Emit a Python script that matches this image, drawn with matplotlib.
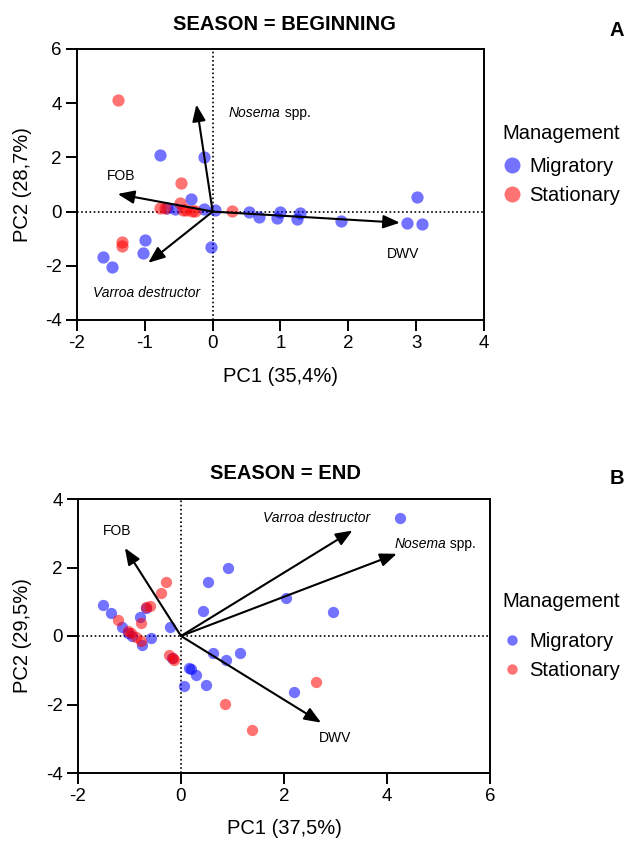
import matplotlib
matplotlib.use("Agg")
import matplotlib.pyplot as plt
from matplotlib.lines import Line2D

plt.rcParams['font.family'] = ['Liberation Sans', 'DejaVu Sans']
plt.rcParams['axes.unicode_minus'] = False

# ---------------- Data: Season = Beginning ----------------
beg_mig_x = [-0.78, -0.13, -0.32, -0.67, -0.55, -0.13, 0.04, 0.54, 0.69, 0.95, 1.00,
             1.24, 1.29, 1.89, 2.87, 3.08, 3.01, -0.02, -1.00, -1.02, -1.61, -1.49]
beg_mig_y = [2.09, 2.01, 0.48, 0.12, 0.09, 0.09, 0.06, -0.02, -0.21, -0.23, -0.02,
             -0.27, -0.07, -0.33, -0.41, -0.46, 0.53, -1.30, -1.05, -1.52, -1.69, -2.04]
beg_sta_x = [-1.40, -0.47, -1.34, -1.33, -0.78, -0.71, -0.48, -0.43, -0.39, -0.31, -0.26, 0.29]
beg_sta_y = [4.10, 1.07, -1.11, -1.27, 0.15, 0.15, 0.31, 0.05, 0.05, 0.04, 0.04, 0.02]

beg_vars = ["Nosema spp.", "FOB", "Varroa destructor", "DWV"]
beg_load_x = [-0.24, -1.40, -0.95, 2.76]
beg_load_y = [3.95, 0.65, -1.89, -0.41]

# ---------------- Data: Season = End ----------------
end_mig_x = [4.26, 0.92, 0.52, 2.03, 0.43, 2.95, -1.52, -1.35, -0.80, -0.67, -0.21, -0.58,
             -1.14, -1.02, -0.75, 0.62, 0.88, 1.15, 0.15, 0.20, 0.29, 0.06, 0.49, 2.19,
             -0.18, -0.95]
end_mig_y = [3.45, 1.99, 1.59, 1.10, 0.72, 0.69, 0.90, 0.66, 0.56, 0.82, 0.26, -0.06,
             0.27, 0.10, -0.26, -0.51, -0.70, -0.51, -0.93, -0.97, -1.13, -1.47, -1.42, -1.63,
             -0.63, 0.00]
end_sta_x = [-0.30, -0.38, -0.60, -0.77, -1.23, -1.03, -0.98, -0.87, -0.78, -0.24, -0.16,
             -0.68, 2.63, 0.86, 1.37, -0.14]
end_sta_y = [1.57, 1.25, 0.87, 0.39, 0.47, 0.15, 0.08, -0.04, -0.16, -0.55, -0.65,
             0.85, -1.34, -1.99, -2.73, -0.69]

end_vars = ["FOB", "Varroa destructor", "Nosema spp.", "DWV"]
end_load_x = [-1.09, 3.33, 4.19, 2.72]
end_load_y = [2.57, 3.08, 2.40, -2.53]

W, H = 626, 843
fig = plt.figure(figsize=(W / 100, H / 100), dpi=100)

def axrect(l, t, r, b):
    return [l / W, 1 - b / H, (r - l) / W, (b - t) / H]

R1 = (77, 49, 484, 320)
R2 = (78, 499, 490, 773)
ax1 = fig.add_axes(axrect(*R1))
ax2 = fig.add_axes(axrect(*R2))

TFS = 13.5   # tick labels
LFS = 14.5   # axis labels / titles / legend
blue = (0, 0, 1)
red = (1, 0, 0)

def style(ax, rect, xlim, ylim, xticks, yticks, xlabel, ylabel):
    l, t, r, b = rect
    ax.set_xlim(*xlim)
    ax.set_ylim(*ylim)
    ax.set_xticks(xticks)
    ax.set_yticks(yticks)
    ax.tick_params(direction='out', length=8, width=1.4, labelsize=TFS, pad=3)
    for s in ax.spines.values():
        s.set_linewidth(1.4)
    ax.axhline(0, color='black', ls=(0, (1, 1.5)), lw=1.2, zorder=1)
    ax.axvline(0, color='black', ls=(0, (1, 1.5)), lw=1.2, zorder=1)
    ax.set_xlabel(xlabel, fontsize=LFS, va='center')
    ax.set_ylabel(ylabel, fontsize=LFS, va='center')
    ax.xaxis.set_label_coords(0.5, -(56) / (b - t))
    ax.yaxis.set_label_coords(-(l - 22.5) / (r - l), 0.5)

def arrows(ax, lx, ly):
    for x, y in zip(lx, ly):
        ax.annotate('', xy=(x, y), xytext=(0, 0),
                    arrowprops=dict(arrowstyle='-|>,head_length=1.0,head_width=0.4',
                                    color='black', lw=1.5, shrinkA=0, shrinkB=0),
                    zorder=4)

def vlabel(ax, x, y, name):
    if name == "Nosema spp.":
        t = ax.text(x, y, "Nosema", fontsize=10, va='center', ha='left', style='italic')
        fig.canvas.draw()
        bb = t.get_window_extent()
        inv = ax.transData.inverted()
        x2 = inv.transform((bb.x1, bb.y0))[0]
        ax.text(x2, y, " spp.", fontsize=10, va='center', ha='left')
    elif name == "Varroa destructor":
        ax.text(x, y, name, fontsize=10, va='center', ha='left', style='italic')
    else:
        ax.text(x, y, name, fontsize=10, va='center', ha='left')

# ---- Top panel ----
style(ax1, R1, (-2, 4), (-4, 6), range(-2, 5), range(-4, 7, 2),
      "PC1 (35,4%)", "PC2 (28,7%)")
ax1.scatter(beg_mig_x, beg_mig_y, s=78, color=blue, alpha=0.55, lw=0, zorder=2)
ax1.scatter(beg_sta_x, beg_sta_y, s=78, color=red, alpha=0.55, lw=0, zorder=3)
arrows(ax1, beg_load_x, beg_load_y)
beg_lab_pos = {"Nosema spp.": (0.24, 3.63), "FOB": (-1.56, 1.33),
               "Varroa destructor": (-1.76, -3.0), "DWV": (2.57, -1.58)}

# ---- Bottom panel ----
style(ax2, R2, (-2, 6), (-4, 4), range(-2, 7, 2), range(-4, 5, 2),
      "PC1 (37,5%)", "PC2 (29,5%)")
ax2.scatter(end_mig_x, end_mig_y, s=66, color=blue, alpha=0.55, lw=0, zorder=2)
ax2.scatter(end_sta_x, end_sta_y, s=66, color=red, alpha=0.55, lw=0, zorder=3)
arrows(ax2, end_load_x, end_load_y)
end_lab_pos = {"FOB": (-1.52, 3.06), "Varroa destructor": (1.59, 3.44),
               "Nosema spp.": (4.15, 2.69), "DWV": (2.68, -2.97)}

for n in beg_vars:
    vlabel(ax1, *beg_lab_pos[n], n)
for n in end_vars:
    vlabel(ax2, *end_lab_pos[n], n)

# titles and panel letters
fig.text(284 / W, 1 - 24 / H, "SEASON = BEGINNING", fontsize=LFS, fontweight='bold',
         ha='center', va='center')
fig.text(285 / W, 1 - 474 / H, "SEASON = END", fontsize=LFS, fontweight='bold',
         ha='center', va='center')
fig.text(617 / W, 1 - 30 / H, "A", fontsize=LFS, fontweight='bold', ha='center', va='center')
fig.text(617 / W, 1 - 479 / H, "B", fontsize=LFS, fontweight='bold', ha='center', va='center')

# legends
def legend(ax, msize, anchor, spacing, sep):
    h = [Line2D([], [], ls='', marker='o', markersize=msize, color=blue, alpha=0.55, mew=0),
         Line2D([], [], ls='', marker='o', markersize=msize, color=red, alpha=0.55, mew=0)]
    lg = ax.legend(h, ["Migratory", "Stationary"], title="Management", loc='upper left',
                   bbox_to_anchor=anchor, bbox_transform=fig.transFigure, frameon=False,
                   fontsize=LFS, title_fontsize=LFS, handletextpad=0.35, handlelength=1.0,
                   labelspacing=spacing, borderaxespad=0, borderpad=0)
    lg._legend_box.align = "left"
    lg._legend_box.sep = sep

legend(ax1, 11.5, (502 / W, 1 - 124 / H), 0.5, 10)
legend(ax2, 7.5, (502 / W, 1 - 592 / H), 0.5, 15)

fig.savefig("out.png", dpi=100)
